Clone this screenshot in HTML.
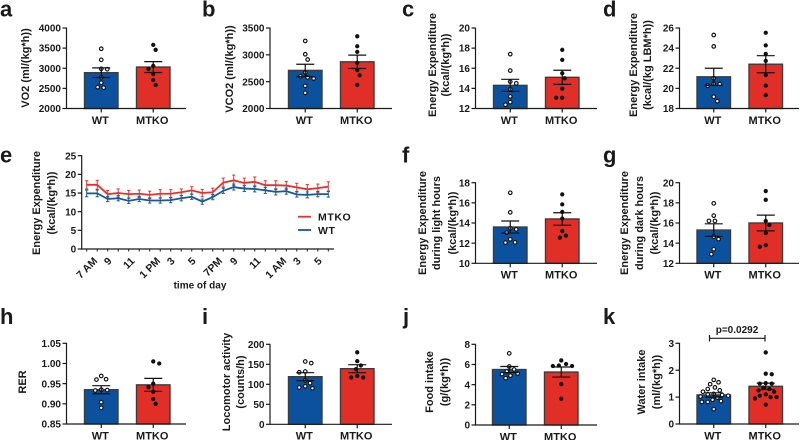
<!DOCTYPE html>
<html lang="en">
<head>
<meta charset="utf-8">
<title>Metabolic phenotype of WT and MTKO mice</title>
<style>
html,body{margin:0;padding:0;background:#fff;width:800px;height:440px;overflow:hidden}
svg{display:block;filter:blur(.35px)}
text{font-family:"Liberation Sans",Arial,sans-serif;font-weight:bold;fill:#1a1a1a}
</style>
</head>
<body>
<svg id="figure" xmlns="http://www.w3.org/2000/svg" width="800" height="440" viewBox="0 0 800 440"></svg>
<script>
// Panel a
const aTicks = [2000, 2500, 3000, 3500, 4000];
const aMeans = [2890, 3030];
const aSems = [120, 135];
const aWT = [3483, 3208, 2985, 2975, 2775, 2640, 2517, 2530];
const aMTKO = [3580, 3458, 3058, 2983, 2858, 2708, 2583];
// Panel b
const bTicks = [2000, 2500, 3000, 3500];
const bMeans = [2710, 2870];
const bSems = [115, 125];
const bWT = [3258, 3010, 2912, 2670, 2600, 2578, 2558, 2422, 2292];
const bMTKO = [3345, 3160, 3055, 2850, 2715, 2620, 2440];
// Panel c
const cTicks = [12, 14, 16, 18, 20];
const cMeans = [14.3, 15.1];
const cSems = [0.6, 0.7];
const cWT = [17.4, 15.77, 14.67, 14.5, 13.9, 13.2, 12.63, 12.37];
const cMTKO = [17.83, 16.83, 15.5, 15, 13.97, 13.07, 13.07];
// Panel d
const dTicks = [18, 20, 22, 24, 26];
const dMeans = [21.15, 22.4];
const dSems = [0.85, 0.85];
const dWT = [25.3, 24.17, 21, 20.43, 20.45, 20.27, 19.17, 18.73];
const dMTKO = [25.53, 24.27, 23.43, 22.73, 21.33, 20.27, 19.33];
// Panel e
const eTicks = [0, 5, 10, 15, 20, 25];
const eTimeLabels = ["7 AM", "9", "11", "1 PM", "3", "5", "7PM", "9", "11", "1 AM", "3", "5"];
const eMTKO = [17.2, 17.2, 14.7, 15, 14.7, 14.8, 14.5, 14.8, 14.8, 15.2, 15.7, 15, 15.2, 17.8, 18.4, 17.7, 18, 17.1, 17.1, 17, 16.5, 16, 16.3, 16.7];
const eWT = [14.9, 14.9, 13.4, 13.6, 12.9, 13.4, 13, 13, 13.1, 13.6, 14, 12.7, 13.9, 15.6, 16.6, 16.2, 16.1, 15.7, 15.3, 15.5, 14.6, 14.5, 14.7, 14.7];
const eMTKOErr = [1.1, 1.2, 1, 1.1, 1, 1, 1, 1.1, 1.1, 0.9, 1, 1, 1.1, 1.2, 1.4, 1.3, 1.3, 1.2, 1.2, 1.1, 1.1, 1.3, 1.1, 1.3];
const eWTErr = [0.9, 0.9, 0.7, 0.7, 0.7, 0.7, 0.7, 0.7, 0.7, 0.7, 0.7, 0.7, 0.7, 0.7, 0.8, 0.8, 0.8, 0.8, 0.8, 0.8, 0.7, 0.8, 0.7, 0.8];
// Panel f
const fTicks = [10, 12, 14, 16, 18];
const fMeans = [13.6, 14.4];
const fSems = [0.6, 0.62];
const fWT = [17, 15.06, 13.47, 13.37, 13.04, 12.38, 12.05, 12.08];
const fMTKO = [16.84, 15.85, 15.1, 14.45, 13.2, 12.75, 12.55];
// Panel g
const gTicks = [12, 14, 16, 18, 20];
const gMeans = [15.3, 16];
const gSems = [0.62, 0.78];
const gWT = [17.95, 16.73, 16.2, 16.2, 14.65, 14.4, 13.4, 12.9];
const gMTKO = [19.17, 18.3, 16.2, 15.8, 15, 13.8, 13.65];
// Panel h
const hTicks = [0.85, 0.9, 0.95, 1.0, 1.05];
const hMeans = [0.935, 0.947];
const hSems = [0.01, 0.016];
const hWT = [0.969, 0.96, 0.961, 0.934, 0.935, 0.933, 0.904, 0.89];
const hMTKO = [1.005, 1.0, 0.95, 0.941, 0.93, 0.912, 0.9];
// Panel i
const iTicks = [0, 50, 100, 150, 200];
const iMeans = [119, 139];
const iSems = [10, 10];
const iWT = [157, 153, 132, 130, 110, 103, 95, 92, 90];
const iMTKO = [180, 158, 147, 138, 121, 117, 117];
// Panel j
const jTicks = [0, 2, 4, 6, 8];
const jMeans = [5.5, 5.25];
const jSems = [0.3, 0.5];
const jWT = [7.1, 5.8, 5.5, 5.3, 5.1, 5.05, 4.9, 4.65];
const jMTKO = [6.4, 6.05, 5.9, 5.85, 5.85, 4.05, 2.6];
// Panel k
const kTicks = [0, 1, 2, 3];
const kMeans = [1.08, 1.4];
const kSems = [0.08, 0.12];
const kWT = [1.64, 1.55, 1.48, 1.36, 1.3, 1.25, 1.2, 1.12, 1.1, 1.08, 1.05, 1.02, 0.98, 0.9, 0.85, 0.82, 0.82, 0.55];
const kMTKO = [2.66, 1.87, 1.85, 1.52, 1.5, 1.5, 1.35, 1.3, 1.25, 1.2, 1.1, 1.05, 1.0, 1.0, 0.95, 0.72];

const groupLabels = ["WT", "MTKO"];
const BLUE = "#0c519d", RED = "#e12f27", INK = "#1a1a1a", EDGE = "#3c3c3c";
const NS = "http://www.w3.org/2000/svg";
const root = document.getElementById("figure");

function shape(parent, tag, attrs, name) {
  const el = document.createElementNS(NS, tag);
  for (const k in attrs) el.setAttribute(k, attrs[k]);
  
  
  parent.appendChild(el);
  return el;
}
function seg(parent, x1, y1, x2, y2, color, width, name) {
  return shape(parent, "line", {x1, y1, x2, y2, stroke: color, "stroke-width": width}, name);
}
function label(parent, x, y, str, size, anchor, name, extra) {
  const el = shape(parent, "text", Object.assign({x, y, "font-size": size, "text-anchor": anchor}, extra || {}), name);
  el.textContent = str;
  return el;
}
function group(name) {
  return shape(root, "g", {}, name);
}
function yTitle(parent, lines, xs, cy, name) {
  lines.forEach((ln, i) => {
    label(parent, xs[i], cy, ln, 11, "middle", name + "-line-" + (i + 1), {transform: "rotate(-90 " + xs[i] + " " + cy + ")"});
  });
}
// Beeswarm: each dot keeps its value's height and only shifts sideways to avoid overlap.
function swarm(ys, minDist) {
  const placed = [];
  const order = ys.map((y, i) => [y, i]).sort((p, q) => p[0] - q[0]);
  const out = new Array(ys.length);
  let side = 1;
  order.forEach(([y, i]) => {
    let off = 0, step = 0;
    const clear = o => placed.every(p => (p.x - o) ** 2 + (p.y - y) ** 2 >= minDist * minDist);
    while (!clear(off)) {
      step += 1;
      const mag = Math.ceil(step / 2) * 1.2;
      off = (step % 2 ? side : -side) * mag;
    }
    if (off !== 0) side = -side;
    placed.push({x: off, y});
    out[i] = off;
  });
  return out;
}
function barPanel(id, o) {
  const g = group("panel-" + id);
  const y = v => o.bottom - (v - o.ticks[0]) / (o.ticks[o.ticks.length - 1] - o.ticks[0]) * (o.bottom - o.top);
  label(g, o.letterX, o.letterY, id, 22, "start", "panel-letter-" + id);
  yTitle(g, o.title, o.titleX, o.titleY, "y-axis-title-" + id);
  const series = [o.wt, o.mtko];
  const colors = [BLUE, RED];
  const lefts = [o.bar1, o.bar2];
  series.forEach((vals, s) => {
    const left = lefts[s], w = 33.5, cx = left + w / 2;
    shape(g, "rect", {x: left, y: y(o.means[s]), width: w, height: o.bottom - y(o.means[s]), fill: colors[s], stroke: EDGE, "stroke-width": 1.4}, "bar-" + id + "-" + groupLabels[s].toLowerCase());
    const ys = vals.map(y);
    const offs = swarm(ys, o.dotGap || 5.4);
    ys.forEach((py, i) => {
      shape(g, "circle", s === 0
        ? {cx: cx + offs[i], cy: py, r: 1.8, fill: "#fff", stroke: "#111", "stroke-width": 1.15}
        : {cx: cx + offs[i], cy: py, r: 2.15, fill: "#111"}, "dot-" + id + "-" + groupLabels[s].toLowerCase());
    });
    const hi = y(o.means[s] + o.sems[s]), lo = y(o.means[s] - o.sems[s]);
    seg(g, cx, hi, cx, lo, "#111", 1.2, "error-bar-" + id);
    seg(g, cx - 9, hi, cx + 9, hi, "#111", 1.2, "error-cap-" + id);
    seg(g, cx - 9, lo, cx + 9, lo, "#111", 1.2, "error-cap-" + id);
    seg(g, cx, o.bottom, cx, o.bottom + 4, INK, 1.2, "x-tick-" + id);
    label(g, cx - 1, o.bottom + 15.3, groupLabels[s], 11, "middle", "x-label-" + id + "-" + groupLabels[s].toLowerCase());
  });
  seg(g, o.axisX, o.top - 0.5, o.axisX, o.bottom + 0.5, INK, 1.2, "y-axis-" + id);
  seg(g, o.axisX - 0.5, o.bottom, o.xEnd, o.bottom, INK, 1.2, "x-axis-" + id);
  o.ticks.forEach(t => {
    seg(g, o.axisX - 4, y(t), o.axisX, y(t), INK, 1.2, "y-tick-" + id);
    label(g, o.axisX - 5.5, y(t) + 3.6, t.toFixed(o.decimals || 0), 10, "end", "y-tick-label-" + id);
  });
  return {g, y};
}

barPanel("a", {letterX: 0, letterY: 16.5, title: ["VO2 (ml/(kg*h))"], titleX: [29], titleY: 68, axisX: 66.5, xEnd: 186, top: 28, bottom: 108.5, bar1: 84.5, bar2: 136.5, ticks: aTicks, means: aMeans, sems: aSems, wt: aWT, mtko: aMTKO});
barPanel("b", {letterX: 202, letterY: 16.5, title: ["VCO2 (ml/(kg*h))"], titleX: [233], titleY: 69, axisX: 270, xEnd: 392, top: 28, bottom: 108.5, bar1: 288.5, bar2: 340.5, ticks: bTicks, means: bMeans, sems: bSems, wt: bWT, mtko: bMTKO});
barPanel("c", {letterX: 402, letterY: 16.5, title: ["Energy Expenditure", "(kcal/(kg*h))"], titleX: [436, 449], titleY: 65, axisX: 475.5, xEnd: 597, top: 28, bottom: 108.5, bar1: 493.5, bar2: 545.5, ticks: cTicks, means: cMeans, sems: cSems, wt: cWT, mtko: cMTKO});
barPanel("d", {letterX: 603, letterY: 16.5, title: ["Energy Expenditure", "(kcal/(kg LBM*h))"], titleX: [637, 651], titleY: 65, axisX: 679.5, xEnd: 799, top: 28, bottom: 108.5, bar1: 697, bar2: 749, ticks: dTicks, means: dMeans, sems: dSems, wt: dWT, mtko: dMTKO});
barPanel("f", {letterX: 402, letterY: 162.5, title: ["Energy Expenditure", "during light hours", "(kcal/(kg*h))"], titleX: [426, 440, 456], titleY: 223, axisX: 475.5, xEnd: 597, top: 182.7, bottom: 263.3, bar1: 493.5, bar2: 545.5, ticks: fTicks, means: fMeans, sems: fSems, wt: fWT, mtko: fMTKO});
barPanel("g", {letterX: 603, letterY: 162.5, title: ["Energy Expenditure", "during dark hours", "(kcal/(kg*h))"], titleX: [628, 643, 658], titleY: 223, axisX: 679.5, xEnd: 799, top: 182.7, bottom: 263.3, bar1: 697, bar2: 749, ticks: gTicks, means: gMeans, sems: gSems, wt: gWT, mtko: gMTKO});
barPanel("h", {letterX: 0, letterY: 324, title: ["RER"], titleX: [26], titleY: 382, axisX: 66.5, xEnd: 186, top: 343.3, bottom: 424, bar1: 84.5, bar2: 136.5, decimals: 2, ticks: hTicks, means: hMeans, sems: hSems, wt: hWT, mtko: hMTKO});
barPanel("i", {letterX: 202, letterY: 324, title: ["Locomotor activity", "(counts/h)"], titleX: [230, 244], titleY: 382, axisX: 270, xEnd: 392, top: 344.3, bottom: 424.3, bar1: 288.5, bar2: 340.5, ticks: iTicks, means: iMeans, sems: iSems, wt: iWT, mtko: iMTKO});
barPanel("j", {letterX: 403, letterY: 324, title: ["Food intake", "(g/(kg*h))"], titleX: [433, 448], titleY: 382, axisX: 475.5, xEnd: 597, top: 344.3, bottom: 425, bar1: 492.5, bar2: 544.5, ticks: jTicks, means: jMeans, sems: jSems, wt: jWT, mtko: jMTKO});
const panelK = barPanel("k", {letterX: 603, letterY: 324, title: ["Water intake", "(ml/(kg*h))"], titleX: [645, 660], titleY: 382, axisX: 679.5, xEnd: 799, top: 343.3, bottom: 424, bar1: 697, bar2: 749, dotGap: 5, ticks: kTicks, means: kMeans, sems: kSems, wt: kWT, mtko: kMTKO});
seg(panelK.g, 709.5, 338.3, 765, 338.3, INK, 1.2, "significance-bracket");
seg(panelK.g, 709.5, 335, 709.5, 341.5, INK, 1.2, "significance-bracket-cap-left");
seg(panelK.g, 765, 335, 765, 341.5, INK, 1.2, "significance-bracket-cap-right");
label(panelK.g, 737, 333, "p=0.0292", 10, "middle", "p-value-label");

// Panel e: time-course chart
(function () {
  const g = group("panel-e");
  const axisX = 81.7, xEnd = 334, top = 155.7, bottom = 249;
  const first = 86.7, last = 328.3;
  const x = i => first + i * (last - first) / (eMTKO.length - 1);
  const y = v => bottom - (v - eTicks[0]) / (eTicks[eTicks.length - 1] - eTicks[0]) * (bottom - top);
  label(g, 0, 162.5, "e", 22, "start", "panel-letter-e");
  yTitle(g, ["Energy Expenditure", "(kcal/(kg*h))"], [40, 55], 203, "y-axis-title-e");
  function series(vals, errs, color, name) {
    const sg = group("series-" + name);
    vals.forEach((v, i) => {
      seg(sg, x(i), y(v + errs[i]), x(i), y(v - errs[i]), color, 1, "error-bar-" + name);
      seg(sg, x(i) - 1.6, y(v + errs[i]), x(i) + 1.6, y(v + errs[i]), color, 1, "error-cap-" + name);
      seg(sg, x(i) - 1.6, y(v - errs[i]), x(i) + 1.6, y(v - errs[i]), color, 1, "error-cap-" + name);
    });
    shape(sg, "polyline", {points: vals.map((v, i) => x(i) + "," + y(v)).join(" "), fill: "none", stroke: color, "stroke-width": 1.8}, "line-" + name);
  }
  series(eMTKO, eMTKOErr, "#e3322c", "mtko");
  series(eWT, eWTErr, "#15589f", "wt");
  seg(g, axisX, top - 0.5, axisX, bottom + 0.5, INK, 1.2, "y-axis-e");
  seg(g, axisX - 0.5, bottom, xEnd, bottom, INK, 1.2, "x-axis-e");
  eTicks.forEach(t => {
    seg(g, axisX - 4, y(t), axisX, y(t), INK, 1.2, "y-tick-e");
    label(g, axisX - 5.5, y(t) + 3.6, String(t), 10, "end", "y-tick-label-e");
  });
  eMTKO.forEach((_, i) => seg(g, x(i), bottom, x(i), bottom + 2.5, INK, 1, "x-tick-e"));
  eTimeLabels.forEach((t, n) => {
    const px = x(n * 2);
    const el = label(g, px, 260, t, 10.5, "middle", "x-tick-label-e");
    const yc = 259 + el.getComputedTextLength() / 2 * 0.707;
    el.setAttribute("y", yc + 3.7);
    el.setAttribute("transform", "rotate(-45 " + px + " " + yc + ")");
  });
  label(g, 200, 288.5, "time of day", 10, "middle", "x-axis-title-e");
  const lg = group("legend-e");
  seg(lg, 298, 216.7, 311, 216.7, "#e3322c", 1.8, "legend-line-mtko");
  label(lg, 318, 220.5, "MTKO", 10.5, "start", "legend-label-mtko", {"letter-spacing": "0.6"});
  seg(lg, 298, 230, 311, 230, "#15589f", 1.8, "legend-line-wt");
  label(lg, 318, 234, "WT", 10.5, "start", "legend-label-wt", {"letter-spacing": "0.6"});
})();
</script>
</body>
</html>
